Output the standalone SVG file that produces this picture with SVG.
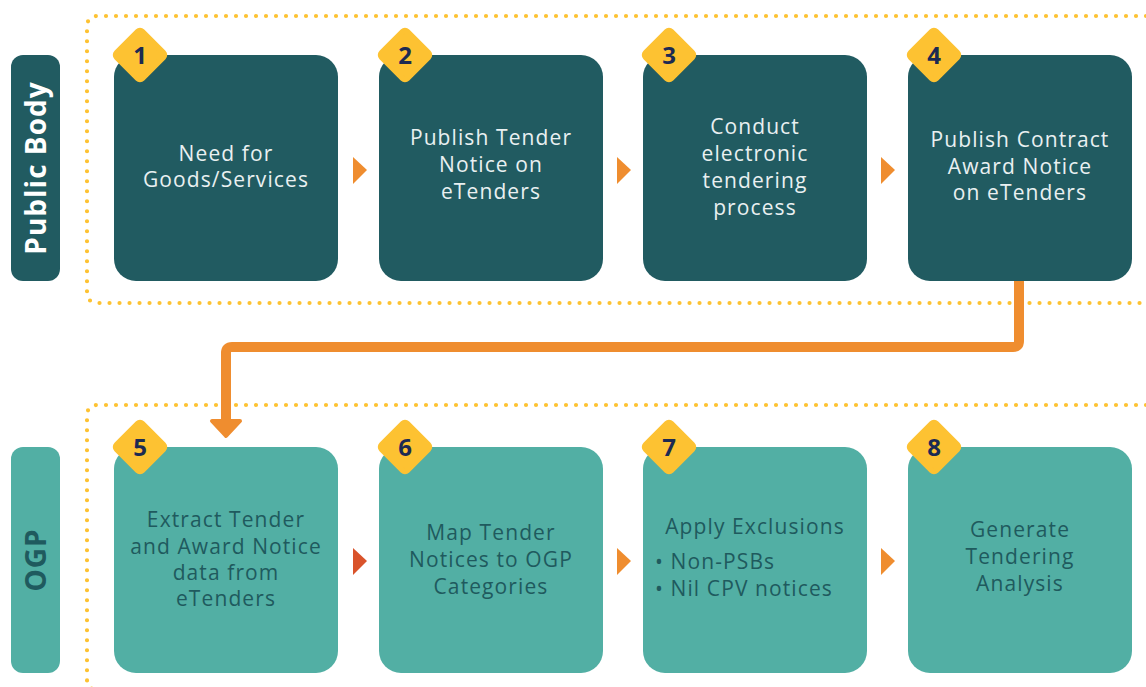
<svg xmlns="http://www.w3.org/2000/svg" width="1146" height="687" viewBox="0 0 1146 687">
<defs>
<style>
.dots{fill:none;stroke:#fdc232;stroke-width:4.2;stroke-linecap:round;stroke-dasharray:0 10}
.top{fill:#215b61}
.bot{fill:#52afa4}
.badge{fill:#fdc232;stroke:#fdc232;stroke-width:6;stroke-linejoin:round}
.num{font-family:"Open Sans","Liberation Sans",sans-serif;font-weight:bold;font-size:24px;fill:#1c2a52;text-anchor:middle}
.tw{font-family:"Open Sans","Liberation Sans",sans-serif;font-size:21px;letter-spacing:1.1px;fill:#e9f0f1;text-anchor:middle}
.td{font-family:"Open Sans","Liberation Sans",sans-serif;font-size:21px;letter-spacing:1.1px;fill:#1f5a5e;text-anchor:middle}
.td.start{text-anchor:start}
.lane{font-family:"Open Sans","Liberation Sans",sans-serif;font-weight:bold;font-size:28px;letter-spacing:1px;text-anchor:middle}
.tri{fill:#ef8d2f}
.tri2{fill:#d9532b}
.conn{fill:none;stroke:#ef8d2f;stroke-width:10;stroke-linecap:round;stroke-linejoin:round}
.head{fill:#ef8d2f;stroke:#ef8d2f;stroke-width:4;stroke-linejoin:round}
</style>
</defs>
<rect width="1146" height="687" fill="#ffffff"/>

<g id="lane-borders">
<path class="dots" d="M1146 16 H98 Q87 16 87 27 V292 Q87 303 98 303 H1146"/>
<path class="dots" d="M1146 405 H98 Q87 405 87 416 V679 Q87 690 98 690 H1146"/>
</g>

<g id="lane-public-body">
<rect x="11" y="55" width="49" height="226" rx="12" class="top"/>
<text class="lane" fill="#ffffff" transform="translate(46 168) rotate(-90)">Public Body</text>
</g>
<g id="lane-ogp">
<rect x="11" y="447" width="49" height="226" rx="12" class="bot"/>
<text class="lane" fill="#1f5a5e" transform="translate(46 560) rotate(-90)">OGP</text>
</g>

<g id="connectors">
<polygon class="tri" points="353,157 367,170 353,184"/>
<polygon class="tri" points="617,157 631,170 617,184"/>
<polygon class="tri" points="881,157 895,170 881,184"/>
<polygon class="tri2" points="353,548 367,561 353,575"/>
<polygon class="tri" points="617,548 631,561 617,575"/>
<polygon class="tri" points="881,548 895,561 881,575"/>
<path class="conn" d="M1019 264 V341 Q1019 347 1013 347 H232 Q226 347 226 353 V422"/>
<polygon class="head" points="212,421 240,421 226,436"/>
</g>

<g id="node1">
<rect x="114" y="55" width="224" height="226" rx="22" class="top"/>
<rect x="122" y="37" width="36" height="36" rx="3" class="badge" transform="rotate(45 140 55)"/>
<text class="num" x="140" y="63.5">1</text>
<text class="tw" x="226" y="161">Need for</text>
<text class="tw" x="226" y="187">Goods/Services</text>
</g>
<g id="node2">
<rect x="379" y="55" width="224" height="226" rx="22" class="top"/>
<rect x="387" y="37" width="36" height="36" rx="3" class="badge" transform="rotate(45 405 55)"/>
<text class="num" x="405" y="63.5">2</text>
<text class="tw" x="491" y="145">Publish Tender</text>
<text class="tw" x="491" y="172">Notice on</text>
<text class="tw" x="491" y="199">eTenders</text>
</g>
<g id="node3">
<rect x="643" y="55" width="224" height="226" rx="22" class="top"/>
<rect x="651" y="37" width="36" height="36" rx="3" class="badge" transform="rotate(45 669 55)"/>
<text class="num" x="669" y="63.5">3</text>
<text class="tw" x="755" y="134">Conduct</text>
<text class="tw" x="755" y="161">electronic</text>
<text class="tw" x="755" y="188">tendering</text>
<text class="tw" x="755" y="215">process</text>
</g>
<g id="node4">
<rect x="908" y="55" width="224" height="226" rx="22" class="top"/>
<rect x="916" y="37" width="36" height="36" rx="3" class="badge" transform="rotate(45 934 55)"/>
<text class="num" x="934" y="63.5">4</text>
<text class="tw" x="1020" y="147">Publish Contract</text>
<text class="tw" x="1020" y="174">Award Notice</text>
<text class="tw" x="1020" y="200">on eTenders</text>
</g>

<g id="node5">
<rect x="114" y="447" width="224" height="226" rx="22" class="bot"/>
<rect x="122" y="429" width="36" height="36" rx="3" class="badge" transform="rotate(45 140 447)"/>
<text class="num" x="140" y="455.5">5</text>
<text class="td" x="226" y="527">Extract Tender</text>
<text class="td" x="226" y="554">and Award Notice</text>
<text class="td" x="226" y="580">data from</text>
<text class="td" x="226" y="606">eTenders</text>
</g>
<g id="node6">
<rect x="379" y="447" width="224" height="226" rx="22" class="bot"/>
<rect x="387" y="429" width="36" height="36" rx="3" class="badge" transform="rotate(45 405 447)"/>
<text class="num" x="405" y="455.5">6</text>
<text class="td" x="491" y="540">Map Tender</text>
<text class="td" x="491" y="567">Notices to OGP</text>
<text class="td" x="491" y="594">Categories</text>
</g>
<g id="node7">
<rect x="643" y="447" width="224" height="226" rx="22" class="bot"/>
<rect x="651" y="429" width="36" height="36" rx="3" class="badge" transform="rotate(45 669 447)"/>
<text class="num" x="669" y="455.5">7</text>
<text class="td" x="755" y="534">Apply Exclusions</text>
<text class="td start" x="655" y="569">• Non-PSBs</text>
<text class="td start" x="655" y="596">• Nil CPV notices</text>
</g>
<g id="node8">
<rect x="908" y="447" width="224" height="226" rx="22" class="bot"/>
<rect x="916" y="429" width="36" height="36" rx="3" class="badge" transform="rotate(45 934 447)"/>
<text class="num" x="934" y="455.5">8</text>
<text class="td" x="1020" y="537">Generate</text>
<text class="td" x="1020" y="564">Tendering</text>
<text class="td" x="1020" y="591">Analysis</text>
</g>
</svg>
